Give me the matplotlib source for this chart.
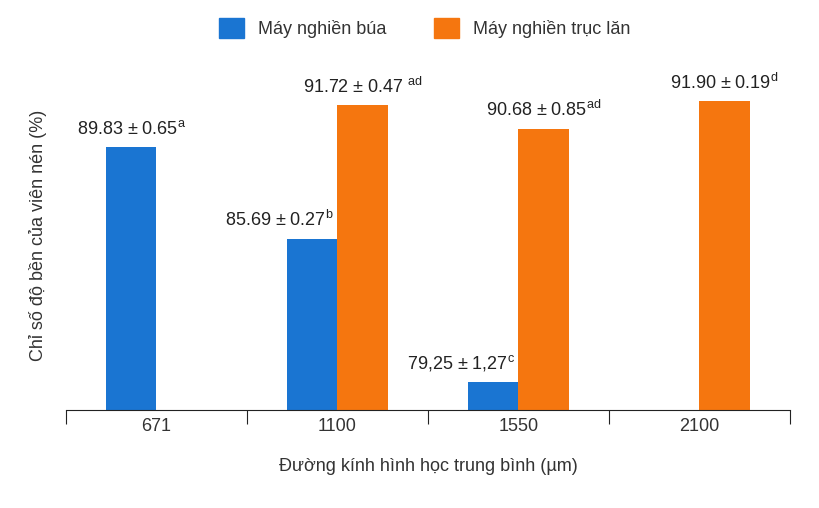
import matplotlib
matplotlib.use("Agg")
import matplotlib.pyplot as plt
import numpy as np
from matplotlib.patches import Patch

plt.rcParams['font.family'] = ['Liberation Sans', 'DejaVu Sans']
plt.rcParams['mathtext.fontset'] = 'custom'
plt.rcParams['mathtext.rm'] = 'Liberation Sans'

categories = ["671", "1100", "1550", "2100"]
hammer = [89.83, 85.69, 79.25, None]
roller = [None, 91.72, 90.68, 91.90]
hammer_lbl = ["89.83 ± 0.65", "85.69 ± 0.27", "79,25 ± 1,27", None]
hammer_sup = ["a", "b", "c", None]
roller_lbl = [None, "91.72 ± 0.47 ", "90.68 ± 0.85", "91.90 ± 0.19"]
roller_sup = [None, "ad", "ad", "d"]

blue, orange = "#1a75d2", "#f5760f"
base = 78.0
fs = 13
fig = plt.figure(figsize=(8.2, 5.08), dpi=100)
ax = fig.add_axes([66/820, 1-410/508, (790-66)/820, 350/508])
x = np.arange(len(categories))
w = 0.278
for i in range(len(categories)):
    if hammer[i] is not None:
        ax.bar(x[i]-w/2, hammer[i]-base, w, bottom=base, color=blue)
        ax.text(x[i]-w/2 - (0.0 if i == 0 else 0.18), hammer[i]+0.4,
                hammer_lbl[i] + r"$^{\mathregular{" + hammer_sup[i] + "}}$",
                ha="center", va="bottom", fontsize=fs, color="#222222")
    if roller[i] is not None:
        ax.bar(x[i]+w/2, roller[i]-base, w, bottom=base, color=orange)
        ax.text(x[i]+w/2, roller[i]+0.4,
                roller_lbl[i] + r"$^{\mathregular{" + roller_sup[i] + "}}$",
                ha="center", va="bottom", fontsize=fs, color="#222222")
ax.set_xlim(-0.5, 3.5)
ax.set_ylim(base, base + 350/22.2)
for s in ["top", "right", "left"]:
    ax.spines[s].set_visible(False)
ax.spines["bottom"].set_color("#222222")
ax.set_yticks([])
ax.set_xticks(np.arange(-0.5, 4, 1))
ax.set_xticklabels([])
ax.tick_params(axis="x", which="major", direction="out", length=10, color="#222222")
ax.set_xticks(x, minor=True)
ax.set_xticklabels(categories, minor=True, fontsize=fs, color="#333333")
ax.tick_params(axis="x", which="minor", length=0, pad=6)
ax.set_xlabel("Đường kính hình học trung bình (µm)", fontsize=fs, color="#333333", labelpad=16)
ax.set_ylabel("Chỉ số độ bền của viên nén (%)", fontsize=fs, color="#333333", labelpad=14)
fig.legend(handles=[Patch(color=blue, label="Máy nghiền búa"), Patch(color=orange, label="Máy nghiền trục lăn")],
           loc="center", bbox_to_anchor=(0.518, 1-28/508), ncol=2, frameon=False, fontsize=fs,
           handlelength=1.4, handleheight=1.4, columnspacing=2.6, labelcolor="#333333")
fig.savefig("out.png", dpi=100)
